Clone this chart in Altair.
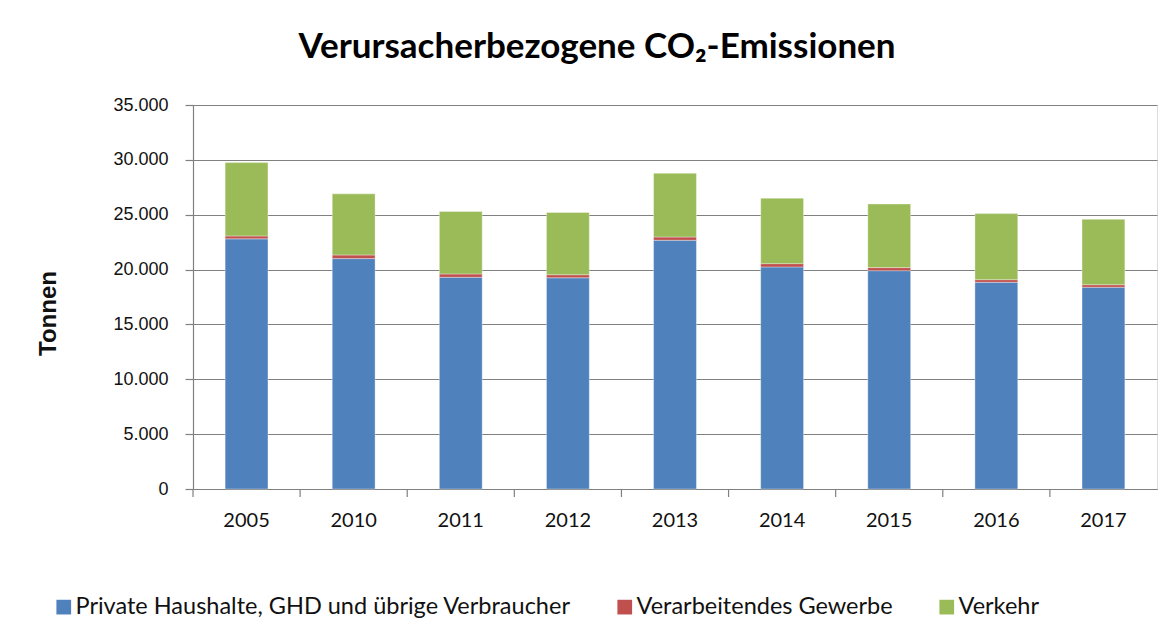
import altair as alt
import pandas as pd

years = ["2005", "2010", "2011", "2012", "2013", "2014", "2015", "2016", "2017"]
series = ["Private Haushalte, GHD und übrige Verbraucher", "Verarbeitendes Gewerbe", "Verkehr"]
private = [22800, 21000, 19300, 19250, 22670, 20240, 19900, 18840, 18390]
gewerbe = [260, 330, 300, 280, 300, 300, 280, 240, 230]
verkehr = [6690, 5570, 5700, 5670, 5810, 5960, 5800, 6020, 5960]
colors = ["#4F81BD", "#C0504D", "#9BBB59"]
y_ticks = [0, 5000, 10000, 15000, 20000, 25000, 30000, 35000]

rows = []
for i, yr in enumerate(years):
    for k, (s, vals) in enumerate(zip(series, [private, gewerbe, verkehr])):
        rows.append({"Jahr": yr, "Sektor": s, "Wert": vals[i], "ord": k})
df = pd.DataFrame(rows)

W, H = 964, 384
GRAY = "#808080"

x_enc = alt.X(
    "Jahr:N", sort=years,
    scale=alt.Scale(paddingInner=0, paddingOuter=0),
    axis=alt.Axis(title=None, ticks=False, tickSize=0, labelFont="Lato", labelFontSize=20,
                  labelColor="#111111", labelPadding=21, labelAngle=0, domainColor=GRAY,
                  domainWidth=1.2, grid=False),
)

bars = alt.Chart(df).mark_bar(
    width=alt.RelativeBandSize(0.4), stroke="white", strokeWidth=0.7, strokeOpacity=0.5
).encode(
    x=x_enc,
    y=alt.Y(
        "Wert:Q", stack="zero",
        scale=alt.Scale(domain=[0, 35000], nice=False),
        axis=alt.Axis(
            values=y_ticks, title="Tonnen",
            labelExpr="replace(format(datum.value, ',.0f'), ',', '.')",
            labelFont="Liberation Sans", labelFontSize=18, labelColor="#111111",
            labelPadding=17, tickSize=8, tickColor=GRAY, tickWidth=1.2, domainColor=GRAY,
            domainWidth=1.2, gridColor=GRAY, gridWidth=1.2,
            titleFont="Liberation Sans", titleFontSize=24, titleFontWeight="bold",
            titleColor="#111111", titleX=-138, titleY=208, titleBaseline="alphabetic",
        ),
    ),
    color=alt.Color(
        "Sektor:N", sort=series,
        scale=alt.Scale(domain=series, range=colors),
        legend=alt.Legend(
            title=None, orient="none", legendX=-141, legendY=490, direction="horizontal",
            symbolType="square", symbolSize=216, symbolStrokeWidth=0, labelFont="Lato",
            labelFontSize=23.5, labelColor="#111111", labelOffset=0, columnPadding=42,
            labelLimit=700,
        ),
    ),
    order=alt.Order("ord:Q"),
)

ticks = alt.Chart(pd.DataFrame({"Jahr": years})).mark_rule(color=GRAY, strokeWidth=1.2).encode(
    x=alt.X("Jahr:N", sort=years, bandPosition=0),
    y=alt.value(H),
    y2=alt.value(H + 8),
)

chart = alt.layer(bars, ticks).properties(
    width=W, height=H,
    title=alt.TitleParams(
        "Verursacherbezogene CO₂-Emissionen", font="Lato", fontSize=35, fontWeight="bold",
        color="#000000", anchor="middle", dx=-78, dy=45, offset=48, baseline="alphabetic",
    ),
    autosize=alt.AutoSizeParams(type="none"),
    padding={"left": 185, "top": 97, "right": 4, "bottom": 141},
).configure_view(stroke=None).configure(background="white")

chart.save("out.html", embed_options={"renderer": "svg", "actions": False})
